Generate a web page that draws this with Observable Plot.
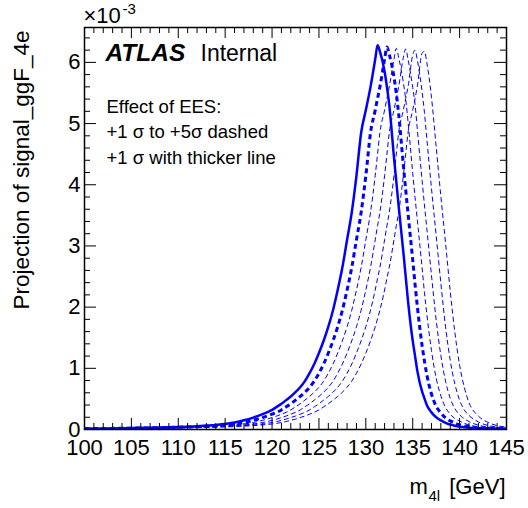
<!DOCTYPE html>
<html><head><meta charset="utf-8">
<script src="https://cdn.jsdelivr.net/npm/d3@7"></script>
<script src="https://cdn.jsdelivr.net/npm/@observablehq/plot@0.6"></script>
<style>body{margin:0;background:#fff} #chart svg{display:block}</style>
</head><body><div id="chart"></div>
<script>
// m4l grid [GeV]
const mass = [100,102,104,106,108,110,112,114,116,117,118,119,120,120.5,121,121.5,122,122.5,123,123.5,124,124.5,125,125.5,126,126.5,127,127.5,128,128.5,129,129.5,130,130.5,131,131.25,131.5,132,132.25,132.5,133,133.25,133.5,134,134.25,134.5,135,135.25,135.5,136,136.25,136.5,137,137.5,138,138.5,139,139.5,140,140.5,141,142,143,144,145];
// projection values in units of 1e-3
const nominal = [0.015,0.018,0.022,0.027,0.033,0.042,0.055,0.075,0.115,0.15,0.195,0.25,0.32,0.37,0.42,0.48,0.54,0.61,0.69,0.79,0.92,1.07,1.25,1.45,1.68,1.95,2.28,2.65,3.10,3.55,4.15,4.85,5.22,5.60,6.05,6.28,6.18,5.85,5.60,5.30,4.45,4.05,3.65,2.90,2.50,2.10,1.45,1.20,0.95,0.62,0.51,0.40,0.28,0.20,0.15,0.11,0.08,0.06,0.045,0.037,0.03,0.022,0.018,0.015,0.012];
const sigma1 = [0.014,0.016,0.020,0.024,0.030,0.037,0.048,0.063,0.09,0.115,0.15,0.195,0.25,0.28,0.32,0.37,0.42,0.48,0.54,0.61,0.69,0.79,0.92,1.07,1.25,1.45,1.68,1.95,2.28,2.65,3.10,3.55,4.15,4.85,5.22,5.41,5.60,6.05,6.25,6.13,5.76,5.49,5.16,4.32,3.92,3.53,2.77,2.37,2.00,1.37,1.12,0.90,0.58,0.38,0.27,0.19,0.14,0.105,0.077,0.058,0.044,0.029,0.022,0.018,0.015];
const sigma2 = [0.013,0.015,0.018,0.022,0.027,0.033,0.042,0.055,0.075,0.09,0.115,0.15,0.195,0.22,0.25,0.28,0.32,0.37,0.42,0.48,0.54,0.61,0.69,0.79,0.92,1.07,1.25,1.45,1.68,1.95,2.28,2.65,3.10,3.55,4.15,4.50,4.85,5.22,5.41,5.60,6.05,6.23,6.08,5.67,5.40,5.03,4.19,3.79,3.41,2.64,2.24,1.89,1.29,0.84,0.55,0.36,0.25,0.18,0.137,0.10,0.074,0.042,0.029,0.021,0.017];
const sigma3 = [0.012,0.014,0.016,0.020,0.024,0.030,0.037,0.048,0.063,0.075,0.09,0.115,0.15,0.17,0.195,0.22,0.25,0.28,0.32,0.37,0.42,0.48,0.54,0.61,0.69,0.79,0.92,1.07,1.25,1.45,1.68,1.95,2.28,2.65,3.10,3.33,3.55,4.15,4.50,4.85,5.22,5.41,5.60,6.08,6.22,6.05,5.59,5.31,4.89,4.07,3.67,3.29,2.52,1.79,1.21,0.79,0.51,0.34,0.24,0.176,0.13,0.07,0.041,0.028,0.021];
const sigma4 = [0.011,0.013,0.015,0.018,0.022,0.027,0.033,0.042,0.055,0.063,0.075,0.09,0.115,0.13,0.15,0.17,0.195,0.22,0.25,0.28,0.32,0.37,0.42,0.48,0.54,0.61,0.69,0.79,0.92,1.07,1.25,1.45,1.68,1.95,2.28,2.47,2.65,3.10,3.33,3.55,4.15,4.50,4.85,5.22,5.41,5.60,6.12,6.20,6.03,5.52,5.18,4.76,3.94,3.17,2.39,1.68,1.13,0.74,0.48,0.32,0.23,0.124,0.067,0.040,0.028];
const sigma5 = [0.010,0.012,0.014,0.016,0.020,0.024,0.030,0.037,0.048,0.055,0.063,0.075,0.09,0.10,0.115,0.13,0.15,0.17,0.195,0.22,0.25,0.28,0.32,0.37,0.42,0.48,0.54,0.61,0.69,0.79,0.92,1.07,1.25,1.45,1.68,1.81,1.95,2.28,2.47,2.65,3.10,3.33,3.55,4.15,4.50,4.85,5.22,5.41,5.62,6.15,6.18,6.00,5.43,4.62,3.81,3.05,2.26,1.58,1.05,0.69,0.44,0.22,0.118,0.064,0.039];

const xTicks = [100,105,110,115,120,125,130,135,140,145];
const yTicks = [0,1,2,3,4,5,6];
const xMinor = d3.range(100, 146, 1).filter(d => d % 5 !== 0);
const yMinor = d3.range(0, 6.6, 0.2).map(d => +d.toFixed(1)).filter(d => !Number.isInteger(d));

const W = 528, H = 508, mL = 84, mR = 22, mT = 27, mB = 79;
const innerW = W - mL - mR, innerH = H - mT - mB;
const blue = "#0000ff";

const series = [
  {name: "+5σ", values: sigma5, width: 1, dash: "5,3"},
  {name: "+4σ", values: sigma4, width: 1, dash: "5,3"},
  {name: "+3σ", values: sigma3, width: 1, dash: "5,3"},
  {name: "+2σ", values: sigma2, width: 1, dash: "5,3"},
  {name: "+1σ", values: sigma1, width: 3, dash: "5,3.5"},
  {name: "nominal", values: nominal, width: 2.5, dash: null}
];

const lineMarks = series.map(s =>
  Plot.line(mass.map((m, i) => ({m, v: s.values[i]})), {
    x: "m", y: "v", stroke: blue, strokeWidth: s.width,
    strokeDasharray: s.dash, strokeLinecap: s.dash ? "butt" : "round",
    curve: "monotone-x", clip: true
  })
);

const txt = (str, o) => Plot.text([str], {textAnchor: "start", lineAnchor: "bottom", fill: "black", ...o});

const chart = Plot.plot({
  width: W, height: H,
  marginLeft: mL, marginRight: mR, marginTop: mT, marginBottom: mB,
  style: {fontFamily: "'Liberation Sans', Arial, sans-serif", background: "white", color: "black"},
  x: {domain: [100, 145]},
  y: {domain: [0, 6.57]},
  marks: [
    ...lineMarks,
    Plot.frame({stroke: "black", strokeWidth: 1.5}),
    // inward ticks, ROOT style
    Plot.tickY(yTicks, {y: d => d, stroke: "black", insetRight: innerW - 12}),
    Plot.tickY(yTicks, {y: d => d, stroke: "black", insetLeft: innerW - 12}),
    Plot.tickY(yMinor, {y: d => d, stroke: "black", insetRight: innerW - 6}),
    Plot.tickY(yMinor, {y: d => d, stroke: "black", insetLeft: innerW - 6}),
    Plot.tickX(xTicks, {x: d => d, stroke: "black", insetTop: innerH - 11}),
    Plot.tickX(xTicks, {x: d => d, stroke: "black", insetBottom: innerH - 11}),
    Plot.tickX(xMinor, {x: d => d, stroke: "black", insetTop: innerH - 6}),
    Plot.tickX(xMinor, {x: d => d, stroke: "black", insetBottom: innerH - 6}),
    Plot.axisX({ticks: xTicks, tickSize: 0, tickPadding: 10, fontSize: 22, label: null, tickFormat: d => String(d)}),
    Plot.axisY({ticks: yTicks, tickSize: 0, tickPadding: 4, fontSize: 22, label: null, tickFormat: d => String(d)}),
    // exponent
    txt("×10", {frameAnchor: "top-left", dx: -1, dy: -5, fontSize: 22}),
    txt("-3", {frameAnchor: "top-left", dx: 38, dy: -14, fontSize: 15}),
    // ATLAS label
    txt("ATLAS", {frameAnchor: "top-left", dx: 21, dy: 33, fontSize: 24.5, fontWeight: "bold", fontStyle: "italic"}),
    txt("Internal", {frameAnchor: "top-left", dx: 116, dy: 33, fontSize: 23}),
    txt("Effect of EES:", {frameAnchor: "top-left", dx: 22, dy: 85, fontSize: 18.5}),
    txt("+1 σ to +5σ dashed", {frameAnchor: "top-left", dx: 22, dy: 110, fontSize: 18.5}),
    txt("+1 σ with thicker line", {frameAnchor: "top-left", dx: 22, dy: 136, fontSize: 18.5}),
    // axis titles
    txt("Projection of signal_ggF_4e", {frameAnchor: "top-left", rotate: -90, textAnchor: "end", dx: -56, dy: 3, fontSize: 22.5}),
    txt("m", {frameAnchor: "bottom-right", dx: -97, dy: 64, fontSize: 22}),
    txt("4l", {frameAnchor: "bottom-right", dx: -78, dy: 71, fontSize: 15}),
    txt("[GeV]", {frameAnchor: "bottom-right", textAnchor: "end", dx: -1, dy: 64, fontSize: 22})
  ]
});
document.getElementById("chart").appendChild(chart);
</script>
</body></html>
